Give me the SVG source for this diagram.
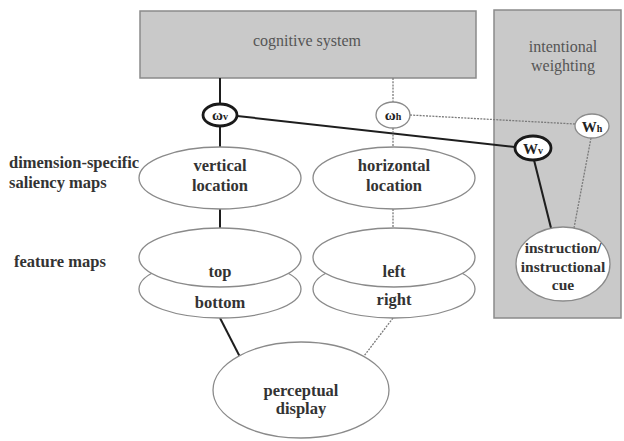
<svg xmlns="http://www.w3.org/2000/svg" width="624" height="441" viewBox="0 0 624 441">
<style>
.box{fill:#c9c9c9;stroke:#8a8a8a;stroke-width:1.5}
.el{fill:#fff;stroke:#8a8a8a;stroke-width:1.3}
.thick{fill:#fff;stroke:#1a1a1a;stroke-width:2.8}
.solid{stroke:#1e1e1e;stroke-width:2;fill:none}
.dash{stroke:#7a7a7a;stroke-width:1.3;stroke-dasharray:2 1.2;fill:none}
text{font-family:"Liberation Serif","DejaVu Serif",serif;text-anchor:middle}
.lbl{font-size:16.5px;font-weight:bold;fill:#333}
.side{font-size:16.5px;font-weight:bold;fill:#333;text-anchor:start}
.hdr{font-size:16px;fill:#555}
.w{font-size:15px;font-weight:bold;fill:#222}
.sub{font-size:10px}
.ins{font-size:15.5px}
</style>
<g id="cognitive-system">
<rect class="box" x="140" y="11" width="336" height="67"/>
<text class="hdr" x="307" y="46">cognitive system</text>
</g>
<g id="intentional-weighting">
<rect class="box" x="494" y="10" width="127" height="308"/>
<text class="hdr" x="563" y="52">intentional</text>
<text class="hdr" x="563" y="71">weighting</text>
</g>
<g id="connectors">
<line class="solid" x1="220" y1="78" x2="220" y2="104"/>
<line class="solid" x1="220" y1="126" x2="220" y2="147"/>
<line class="solid" x1="220" y1="209" x2="220" y2="228"/>
<line class="solid" x1="237" y1="116" x2="515" y2="147"/>
<line class="solid" x1="534" y1="160" x2="551" y2="228"/>
<line class="solid" x1="220" y1="318" x2="240" y2="357"/>
<line class="dash" x1="393" y1="78" x2="393" y2="102"/>
<line class="dash" x1="393" y1="128" x2="393" y2="147"/>
<line class="dash" x1="393" y1="209" x2="393" y2="228"/>
<line class="dash" x1="410" y1="115" x2="575" y2="124"/>
<line class="dash" x1="591" y1="138" x2="574" y2="228"/>
<line class="dash" x1="393" y1="318" x2="364" y2="356"/>
</g>
<g id="omega-v">
<ellipse class="thick" cx="220" cy="115" rx="17" ry="11"/>
<text class="w" x="220" y="120">ω<tspan class="sub">v</tspan></text>
</g>
<g id="omega-h">
<ellipse class="el" cx="393" cy="115" rx="17" ry="13"/>
<text class="w" x="393" y="120">ω<tspan class="sub">h</tspan></text>
</g>
<g id="W-v">
<ellipse class="thick" cx="533" cy="148" rx="18" ry="12"/>
<text class="w" x="533" y="154" font-size="16px">W<tspan class="sub">v</tspan></text>
</g>
<g id="W-h">
<ellipse class="el" cx="592" cy="126" rx="17" ry="12"/>
<text class="w" x="592" y="132" font-size="16px">W<tspan class="sub">h</tspan></text>
</g>
<g id="labels">
<text class="side" x="9" y="168">dimension-specific</text>
<text class="side" x="9" y="188">saliency maps</text>
<text class="side" x="14" y="267">feature maps</text>
</g>
<g id="vertical-location">
<ellipse class="el" cx="220" cy="178" rx="81" ry="31"/>
<text class="lbl" x="220" y="171">vertical</text>
<text class="lbl" x="220" y="191">location</text>
</g>
<g id="horizontal-location">
<ellipse class="el" cx="394" cy="178" rx="81" ry="31"/>
<text class="lbl" x="394" y="171">horizontal</text>
<text class="lbl" x="394" y="191">location</text>
</g>
<g id="bottom">
<ellipse class="el" cx="220" cy="289" rx="81" ry="29"/>
<text class="lbl" x="220" y="308">bottom</text>
</g>
<g id="top">
<ellipse class="el" cx="220" cy="257.5" rx="81" ry="29.5"/>
<text class="lbl" x="220" y="277">top</text>
</g>
<g id="right">
<ellipse class="el" cx="394" cy="289" rx="81" ry="29"/>
<text class="lbl" x="394" y="305">right</text>
</g>
<g id="left">
<ellipse class="el" cx="394" cy="257.5" rx="81" ry="29.5"/>
<text class="lbl" x="394" y="277">left</text>
</g>
<g id="perceptual-display">
<ellipse class="el" cx="301" cy="390" rx="88" ry="48"/>
<text class="lbl" x="301" y="396">perceptual</text>
<text class="lbl" x="301" y="414">display</text>
</g>
<g id="instruction">
<ellipse class="el" cx="563" cy="264" rx="47" ry="37"/>
<text class="lbl ins" x="563" y="253">instruction/</text>
<text class="lbl ins" x="563" y="272">instructional</text>
<text class="lbl ins" x="563" y="290">cue</text>
</g>
</svg>
